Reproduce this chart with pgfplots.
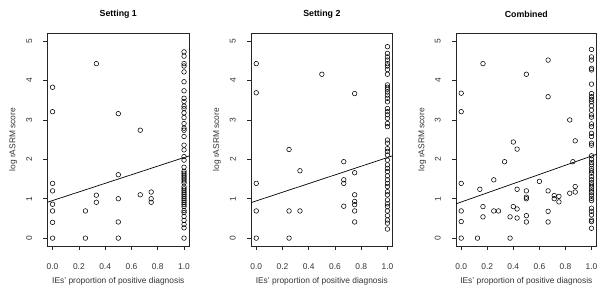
\documentclass[border=0pt]{standalone}
\usepackage{fontspec}
\setmainfont{Liberation Sans}
\usepackage{pgfplots}
\pgfplotsset{compat=1.18}
\pgfplotsset{
  rpanel/.style={
    scale only axis,
    anchor=south west,
    height=212.7bp,
    xmin=-0.04, xmax=1.04, ymin=-0.2, ymax=5.2,
    axis line style={line width=0.6bp, black!85},
    tick style={line width=0.6bp, black!85},
    tick pos=left, tick align=outside,
    major tick length=4bp,
    xtick={0,0.2,0.4,0.6,0.8,1.0},
    xticklabels={0.0,0.2,0.4,0.6,0.8,1.0},
    ytick={0,1,2,3,4,5},
    yticklabels={0,1,2,3,4,5},
    ticklabel style={font=\fontsize{8.4bp}{10bp}\selectfont, text=black!80, inner sep=0pt},
    xticklabel style={anchor=north},
    xticklabel shift=13bp,
    yticklabel style={rotate=90, anchor=south},
    yticklabel shift=11bp,
    label style={font=\fontsize{8.4bp}{10bp}\selectfont, text=black!80},
    xlabel={IEs' proportion of positive diagnosis},
    ylabel={log rASRM score},
    xlabel style={at={(axis description cs:0.5,-0.165)}, anchor=center},
    ylabel style={at={(axis description cs:-0.24,0.5)}, anchor=center, rotate=0},
    title style={font=\bfseries\fontsize{8.8bp}{10bp}\selectfont, at={(axis description cs:0.5,1)}, anchor=center, yshift=13bp},
    every axis plot/.append style={line width=0.55bp},
  },
  pts/.style={only marks, mark=o, mark size=2.3bp, black},
  fit/.style={black, no marks, line width=0.7bp},
}
\begin{document}
\begin{tikzpicture}
\useasboundingbox (0bp,0bp) rectangle (607bp,296bp);
% ---------- Setting 1
\begin{axis}[rpanel, at={(47.3bp,50bp)}, width=142bp, title={Setting 1}]
\addplot[pts] coordinates {
(0,0) (0,0.40) (0,0.69) (0,0.86) (0,1.20) (0,1.39) (0,3.21) (0,3.83)
(0.25,0) (0.25,0.69)
(0.333,0.91) (0.333,1.09) (0.333,4.43)
(0.5,0) (0.5,0.41) (0.5,1.0) (0.5,1.61) (0.5,3.16)
(0.667,1.10) (0.667,2.74)
(0.75,0.91) (0.75,1.0) (0.75,1.17)
(1,0) (1,0.26) (1,0.35) (1,0.45) (1,0.55) (1,0.65) (1,0.7) (1,0.8) (1,0.85) (1,0.9)
(1,0.95) (1,1.0) (1,1.05) (1,1.1) (1,1.15) (1,1.2) (1,1.25) (1,1.3) (1,1.4) (1,1.45)
(1,1.5) (1,1.55) (1,1.6) (1,1.65) (1,1.7) (1,1.8) (1,1.98) (1,2.07) (1,2.24) (1,2.36)
(1,2.58) (1,2.74) (1,2.79) (1,2.91) (1,3.06) (1,3.18) (1,3.29) (1,3.35) (1,3.47) (1,3.55)
(1,3.74) (1,3.97) (1,4.22) (1,4.37) (1,4.43) (1,4.62) (1,4.73)
};
\addplot[fit] coordinates {(-0.04,0.91) (1.04,2.09)};
\end{axis}
% ---------- Setting 2
\begin{axis}[rpanel, at={(251bp,50bp)}, width=141.7bp, title={Setting 2}]
\addplot[pts] coordinates {
(0,0) (0,0.69) (0,1.39) (0,3.69) (0,4.43)
(0.25,0) (0.25,0.69) (0.25,2.25)
(0.333,0.69) (0.333,1.71)
(0.5,4.16)
(0.667,0.81) (0.667,1.39) (0.667,1.48) (0.667,1.94)
(0.75,0.41) (0.75,0.69) (0.75,0.85) (0.75,0.93) (0.75,1.10) (0.75,1.66) (0.75,3.67)
(1,0.23) (1,0.38) (1,0.46) (1,0.57) (1,0.69) (1,0.8) (1,0.87) (1,0.97) (1,1.1) (1,1.18)
(1,1.31) (1,1.39) (1,1.48) (1,1.58) (1,1.69) (1,1.77) (1,1.86) (1,1.98) (1,2.11) (1,2.2)
(1,2.27) (1,2.41) (1,2.49) (1,2.83) (1,2.91) (1,3.04) (1,3.13) (1,3.21) (1,3.29) (1,3.46)
(1,3.55) (1,3.63) (1,3.71) (1,3.78) (1,3.83) (1,3.89) (1,4.16) (1,4.28) (1,4.37) (1,4.43)
(1,4.52) (1,4.6) (1,4.69) (1,4.86)
};
\addplot[fit] coordinates {(-0.04,0.90) (1.04,2.09)};
\end{axis}
% ---------- Combined
\begin{axis}[rpanel, at={(456bp,50bp)}, width=140.7bp, title={Combined}]
\addplot[pts] coordinates {
(0,0) (0,0.42) (0,0.69) (0,1.39) (0,3.21) (0,3.68)
(0.125,0) (0.143,1.24)
(0.167,0.54) (0.167,0.80) (0.167,4.43)
(0.25,0.69) (0.25,1.48) (0.286,0.69) (0.333,1.94)
(0.375,0) (0.375,0.54)
(0.4,0.80) (0.4,2.44)
(0.429,0.51) (0.429,0.74) (0.429,1.24) (0.429,2.26)
(0.5,0.41) (0.5,0.57) (0.5,1.0) (0.5,1.04) (0.5,1.20) (0.5,4.16)
(0.6,1.44)
(0.667,0.41) (0.667,0.68) (0.667,1.20) (0.667,3.59) (0.667,4.52)
(0.714,1.0) (0.714,1.08)
(0.75,0.92) (0.75,1.06)
(0.833,1.14) (0.833,3.0)
(0.857,1.94)
(0.875,1.17) (0.875,1.31) (0.875,2.47)
(1,0.25) (1,0.42) (1,0.46) (1,0.59) (1,0.68) (1,0.76) (1,0.95) (1,1.01) (1,1.09) (1,1.16)
(1,1.22) (1,1.29) (1,1.35) (1,1.41) (1,1.48) (1,1.56) (1,1.65) (1,1.71) (1,1.77) (1,1.86)
(1,1.92) (1,2.0) (1,2.09) (1,2.36) (1,2.41) (1,2.58) (1,2.66) (1,2.83) (1,2.9) (1,3.07)
(1,3.13) (1,3.25) (1,3.36) (1,3.46) (1,3.52) (1,3.59) (1,3.67) (1,3.91) (1,4.27) (1,4.31)
(1,4.52) (1,4.6) (1,4.79)
};
\addplot[fit] coordinates {(-0.04,0.87) (1.04,2.13)};
\end{axis}
\end{tikzpicture}
\end{document}
